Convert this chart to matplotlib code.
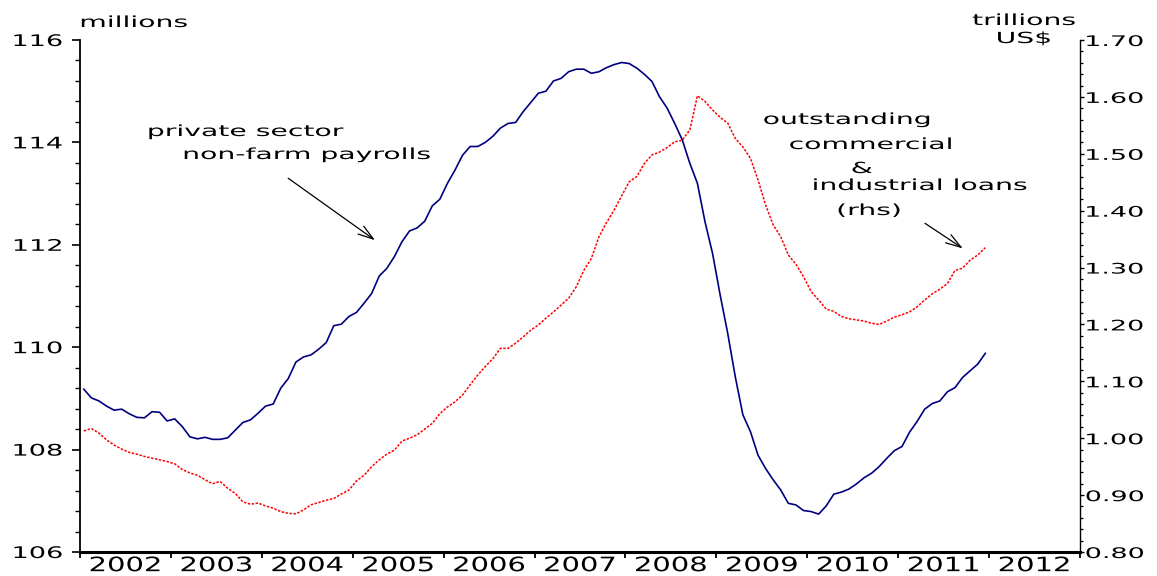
import matplotlib

matplotlib.use("Agg")
import matplotlib.pyplot as plt
import numpy as np
from matplotlib.patheffects import AbstractPathEffect
from matplotlib.ticker import FormatStrFormatter, MultipleLocator
from matplotlib.transforms import Affine2D

# monthly values, Jan 2002 .. Dec 2011 (one row per year)
payrolls = [  # private sector non-farm payrolls, millions (lhs)
    109.18, 109.01, 108.95, 108.85, 108.77, 108.79, 108.70, 108.63, 108.62, 108.74, 108.73, 108.56,
    108.60, 108.45, 108.25, 108.21, 108.24, 108.20, 108.20, 108.23, 108.38, 108.53, 108.58, 108.71,
    108.85, 108.89, 109.20, 109.39, 109.71, 109.81, 109.85, 109.96, 110.09, 110.42, 110.45, 110.60,
    110.68, 110.86, 111.05, 111.39, 111.54, 111.77, 112.06, 112.27, 112.33, 112.46, 112.76, 112.89,
    113.20, 113.46, 113.75, 113.92, 113.92, 114.00, 114.12, 114.28, 114.37, 114.39, 114.60, 114.78,
    114.96, 115.00, 115.20, 115.25, 115.38, 115.43, 115.43, 115.35, 115.38, 115.46, 115.52, 115.56,
    115.54, 115.45, 115.33, 115.19, 114.89, 114.67, 114.37, 114.05, 113.59, 113.20, 112.45, 111.83,
    111.02, 110.27, 109.42, 108.68, 108.35, 107.89, 107.63, 107.41, 107.21, 106.95, 106.92, 106.81,
    106.79, 106.74, 106.90, 107.13, 107.17, 107.23, 107.33, 107.45, 107.54, 107.67, 107.83, 107.98,
    108.06, 108.34, 108.55, 108.79, 108.90, 108.95, 109.13, 109.21, 109.41, 109.54, 109.67, 109.88,
]
ci_loans = [  # outstanding C&I loans, trillions US$ (rhs)
    1.013, 1.017, 1.009, 0.997, 0.988, 0.981, 0.975, 0.972, 0.968, 0.965, 0.962, 0.959,
    0.955, 0.945, 0.939, 0.935, 0.927, 0.920, 0.924, 0.912, 0.903, 0.888, 0.884, 0.886,
    0.881, 0.877, 0.871, 0.868, 0.867, 0.874, 0.883, 0.887, 0.891, 0.894, 0.902, 0.909,
    0.925, 0.935, 0.950, 0.962, 0.972, 0.979, 0.995, 1.000, 1.006, 1.016, 1.026, 1.043,
    1.055, 1.064, 1.076, 1.094, 1.111, 1.126, 1.140, 1.158, 1.158, 1.167, 1.178, 1.190,
    1.199, 1.211, 1.222, 1.234, 1.246, 1.266, 1.295, 1.316, 1.354, 1.379, 1.401, 1.426,
    1.451, 1.460, 1.483, 1.498, 1.503, 1.511, 1.521, 1.524, 1.542, 1.602, 1.592, 1.577,
    1.564, 1.554, 1.527, 1.512, 1.492, 1.454, 1.410, 1.375, 1.354, 1.322, 1.306, 1.284,
    1.258, 1.243, 1.227, 1.223, 1.214, 1.210, 1.208, 1.206, 1.202, 1.200, 1.206, 1.213,
    1.217, 1.222, 1.231, 1.243, 1.254, 1.262, 1.272, 1.295, 1.299, 1.313, 1.322, 1.335,
]
start_year = 2002
years = list(range(2002, 2013))
year_labels = [str(y) for y in years]
lhs_ticks = [106, 108, 110, 112, 114, 116]
rhs_ticks = [0.80, 0.90, 1.00, 1.10, 1.20, 1.30, 1.40, 1.50, 1.60, 1.70]


class Stretch(AbstractPathEffect):
    """Draw glyphs wider, about the text's own anchor, like the old wide-tracked chart font."""

    def __init__(self, sx, anchor="center"):
        super().__init__()
        self.sx = sx
        self.anchor = anchor

    def draw_path(self, renderer, gc, tpath, affine, rgbFace=None):
        ext = tpath.get_extents()
        x0 = {"left": ext.x0, "center": 0.5 * (ext.x0 + ext.x1), "right": ext.x1}[self.anchor]
        wide = Affine2D().translate(-x0, 0).scale(self.sx, 1).translate(x0, 0)
        renderer.draw_path(gc, tpath, wide + affine, rgbFace)


W, H = 1157, 576
fig = plt.figure(figsize=(W / 100, H / 100), dpi=100)
ax = fig.add_axes([80 / W, 1 - 552 / H, 1000 / W, 512 / H])
ax2 = ax.twinx()

x = start_year + (np.arange(len(payrolls)) + 0.5) / 12
ax.plot(x, payrolls, color="#000080", lw=1.2)
ax2.plot(x, ci_loans, color="#ff0000", lw=1.1, ls=(0, (1.6, 1.0)))

ax.set_xlim(2002, 2013)
ax.set_ylim(106, 116)
ax2.set_ylim(0.80, 1.70)

for s in ("top", "right"):
    ax.spines[s].set_visible(False)
for s in ("top", "left", "bottom"):
    ax2.spines[s].set_visible(False)
ax.spines["left"].set_linewidth(1.3)
ax.spines["bottom"].set_linewidth(2.2)
ax2.spines["right"].set_linewidth(1.0)

# years: boundary ticks, labels centred in between
ax.set_xticks(range(2002, 2014))
ax.set_xticklabels([])
ax.set_xticks([y + 0.5 for y in years], labels=year_labels, minor=True)
ax.tick_params(axis="x", which="major", direction="out", length=4.5, width=1.3)
ax.tick_params(axis="x", which="minor", length=0, pad=3, labelsize=14.3)

ax.set_yticks(lhs_ticks)
ax.yaxis.set_minor_locator(MultipleLocator(0.4))
ax.tick_params(axis="y", which="major", length=6, width=1.2, pad=6.5, labelsize=11.5)
ax.tick_params(axis="y", which="minor", length=3.6, width=1.0)

ax2.set_yticks(rhs_ticks)
ax2.yaxis.set_major_formatter(FormatStrFormatter("%.2f"))
ax2.yaxis.set_minor_locator(MultipleLocator(0.02))
ax2.tick_params(axis="y", which="major", length=3, width=1.0, pad=1, labelsize=10.5)
ax2.tick_params(axis="y", which="minor", length=2.2, width=0.9)

plt.setp(ax.get_xticklabels(minor=True), path_effects=[Stretch(1.46, "center")])
plt.setp(ax.get_yticklabels(), path_effects=[Stretch(1.7, "right")])
plt.setp(ax2.get_yticklabels(), path_effects=[Stretch(1.85, "left")])

# labels and annotations, placed in reference pixels (centre x, baseline y)
notes = [
    ("millions", 134, 27),
    ("trillions", 1024, 25),
    ("US$", 1024, 43),
    ("private sector", 246, 136),
    ("non-farm payrolls", 307, 159),
    ("outstanding", 847, 124),
    ("commercial", 871, 149),
    ("&", 862, 173),
    ("industrial loans", 920, 190),
    ("(rhs)", 869, 215),
]
for txt, px, py in notes:
    fig.text(px / W, 1 - py / H, txt, ha="center", va="baseline", fontsize=11,
             path_effects=[Stretch(1.85, "center")])

arrow = dict(arrowstyle="->,head_length=1.1,head_width=0.35", lw=0.9, color="black",
             shrinkA=0, shrinkB=0)
ax.annotate("", xy=(2005.245, 112.09), xytext=(2004.29, 113.30), arrowprops=arrow)
ax.annotate("", xy=(2011.71, 111.93), xytext=(2011.295, 112.42), arrowprops=arrow)

fig.savefig("out.png", dpi=100)
